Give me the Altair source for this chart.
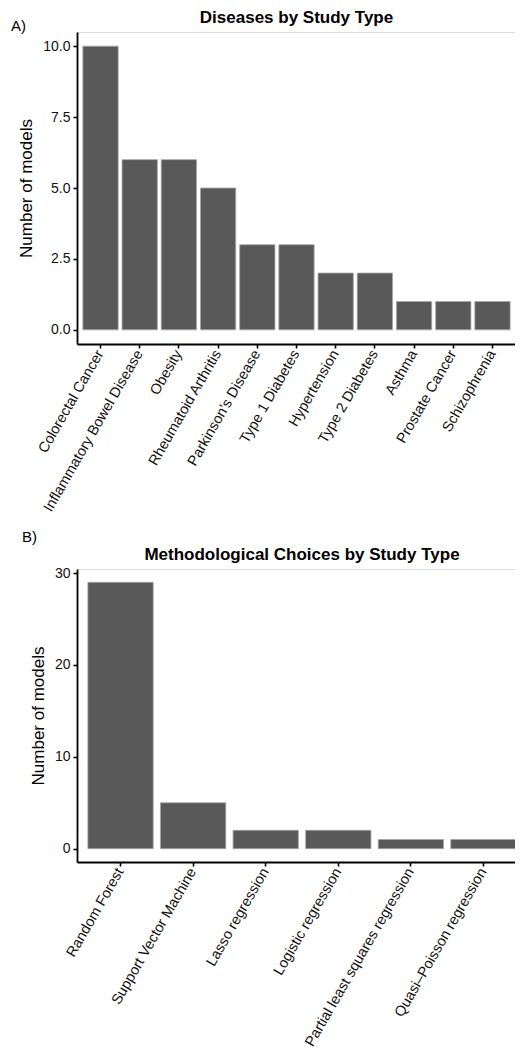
import altair as alt
import pandas as pd

diseases = ["Colorectal Cancer", "Inflammatory Bowel Disease", "Obesity",
            "Rheumatoid Arthritis", "Parkinson's Disease", "Type 1 Diabetes",
            "Hypertension", "Type 2 Diabetes", "Asthma", "Prostate Cancer",
            "Schizophrenia"]
disease_counts = [10, 6, 6, 5, 3, 3, 2, 2, 1, 1, 1]

methods = ["Random Forest", "Support Vector Machine", "Lasso regression",
           "Logistic regression", "Partial least squares regression",
           "Quasi\u2013Poisson regression"]
method_counts = [29, 5, 2, 2, 1, 1]

FONT = "Liberation Sans"


def panel(cats, counts, title, tag, w, h, ydom, yvals, fmt, tag_x, tag_y, title_y):
    df = pd.DataFrame({"cat": cats, "n": counts})
    bars = alt.Chart(df).mark_bar(
        color="#595959", stroke="#a6a6a6", strokeWidth=0.8
    ).encode(
        x=alt.X("cat:N", sort=cats, title=None,
                scale=alt.Scale(paddingInner=0.1, paddingOuter=0.15),
                axis=alt.Axis(labelAngle=-60, labelFontSize=14.5, labelFont=FONT,
                              labelColor="#111111", labelPadding=3,
                              domainColor="black", domainWidth=1.8,
                              tickColor="black", tickWidth=1.6, tickSize=4,
                              labelLimit=400)),
        y=alt.Y("n:Q", title="Number of models",
                scale=alt.Scale(domain=ydom, nice=False, zero=False),
                axis=alt.Axis(values=yvals, format=fmt, grid=False,
                              labelFontSize=14, labelFont=FONT, labelColor="#111111",
                              labelPadding=3,
                              titleFontSize=17, titleFont=FONT, titleFontWeight="normal",
                              titleColor="black", titlePadding=7,
                              domainColor="black", domainWidth=1.8,
                              tickColor="black", tickWidth=1.6, tickSize=4)),
    )
    txt_df = pd.DataFrame({"t": [tag], "ttl": [title]})
    tag_mark = alt.Chart(txt_df).mark_text(
        align="left", baseline="middle", fontSize=15, font=FONT, color="black"
    ).encode(text="t:N", x=alt.value(tag_x), y=alt.value(tag_y))
    title_mark = alt.Chart(txt_df).mark_text(
        align="center", baseline="middle", fontSize=17, font=FONT,
        fontWeight="bold", color="black"
    ).encode(text="ttl:N", x=alt.value(w / 2), y=alt.value(title_y))
    return alt.layer(bars, tag_mark, title_mark).properties(width=w, height=h)


chart_a = panel(diseases, disease_counts, "Diseases by Study Type", "A)",
                439, 312, [-0.5, 10.5], [0, 2.5, 5, 7.5, 10], ".1f", -66, -6, -14)
chart_b = panel(methods, method_counts, "Methodological Choices by Study Type", "B)",
                450, 293, [-1.45, 30.45], [0, 10, 20, 30], "d", -55, -32, -14)

chart = alt.concat(chart_a, chart_b, columns=1, spacing=15, align="none",
                   bounds="full").properties(
    padding={"left": 2, "top": 0, "right": -13, "bottom": 0}
).configure_view(strokeWidth=0, stroke="transparent").configure(background="white")

chart.save("out.html", embed_options={"renderer": "svg", "actions": False})
